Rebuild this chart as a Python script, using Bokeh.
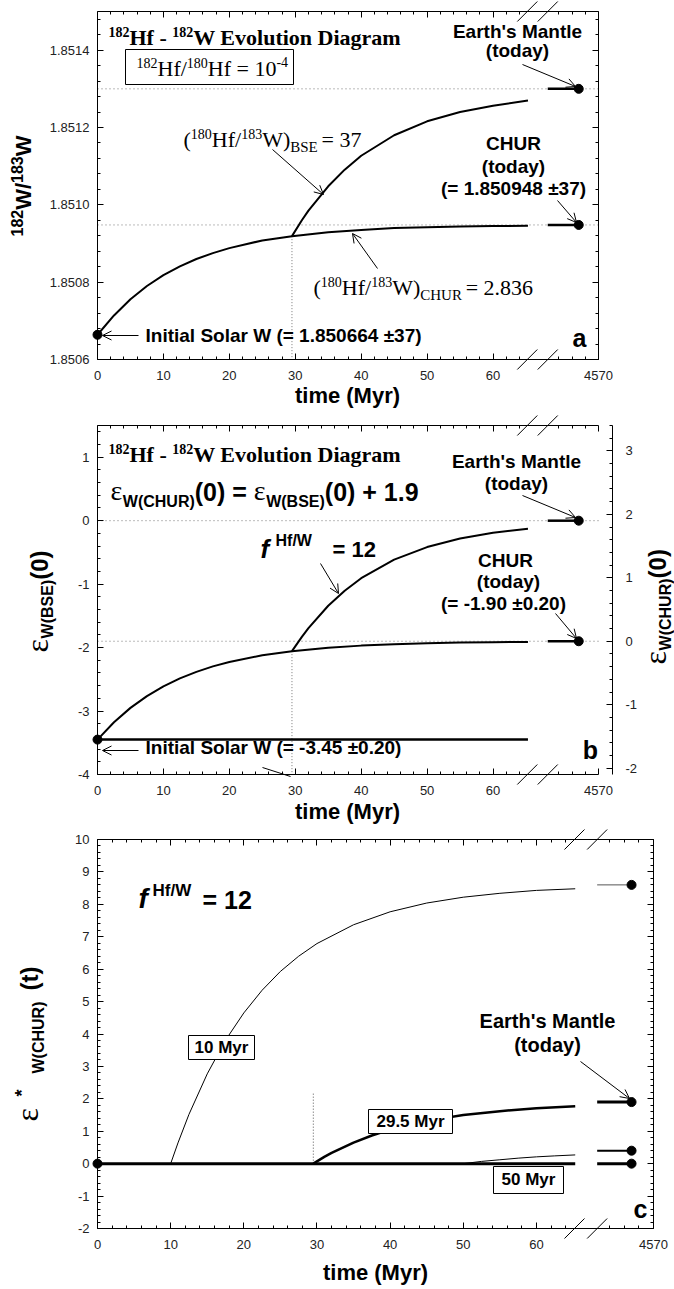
import numpy as np
from bokeh.plotting import figure
from bokeh.models import (Range1d, LinearAxis, FixedTicker, Label, Arrow, OpenHead,
                          BoxAnnotation, NumeralTickFormatter)
from bokeh.layouts import column
from bokeh.embed import file_html
from bokeh.resources import INLINE

# ---------------- data ----------------
X_MAX = 76            # display position of the 4570 Myr tick (broken axis)
T_END = 65.3          # curves stop just before the axis break
T_SEG = 68.3          # "today" segment starts after the break
T_TODAY = 73.0        # display position of the present day (4570 Myr) points
BREAK_CENTERS = [65.2, 68.3]

x_major = [0, 10, 20, 30, 40, 50, 60, 76]
x_labels = {76: "4570"}
x_minor = [2, 4, 6, 8, 12, 14, 16, 18, 22, 24, 26, 28, 32, 34, 36, 38, 42, 44, 46, 48,
           52, 54, 56, 58, 62, 64, 70, 72, 74]

t_sep = 29.5

# panel a : 182W/183W
t_chur = [0, 2.5, 5, 7.5, 10, 12.5, 15, 17.5, 20, 25, 29.5, 35, 40, 45, 50, 55, 60, 65.3]
chur_a = [1.850664, 1.850714, 1.850756, 1.850790, 1.850818, 1.850841, 1.850860, 1.850875,
          1.850888, 1.850908, 1.850919, 1.850929, 1.850935, 1.850940, 1.850942, 1.850944,
          1.850945, 1.850946]
t_bse = [29.5, 31, 32, 35, 37.5, 40, 45, 50, 55, 60, 65.3]
bse_a = [1.850919, 1.850960, 1.850985, 1.851048, 1.851091, 1.851127, 1.851180, 1.851216,
         1.851240, 1.851256, 1.851270]
a_initial = 1.850664
a_mantle = 1.8513
a_chur_today = 1.850948

# panel b : epsilon W (BSE)
chur_b = [-3.45, -3.176, -2.950, -2.764, -2.611, -2.485, -2.382, -2.296, -2.226, -2.121,
          -2.056, -2.002, -1.969, -1.947, -1.931, -1.921, -1.914, -1.910]
bse_b = [-2.056, -1.831, -1.694, -1.341, -1.104, -0.907, -0.614, -0.416, -0.282, -0.190, -0.129]
t_init = [0, 65.3]
init_b = [-3.45, -3.45]
b_initial = -3.45
b_mantle = 0.0
b_chur_today = -1.90
b_offset = 1.9     # eps_CHUR = eps_BSE + 1.9

# panel c : epsilon* W (CHUR)
t10 = [10, 11, 12.5, 15, 17.5, 20, 22.5, 25, 27.5, 30, 35, 40, 45, 50, 55, 60, 65.3]
e10 = [0, 0.64, 1.52, 2.77, 3.81, 4.65, 5.35, 5.93, 6.40, 6.79, 7.37, 7.77, 8.04, 8.22,
       8.34, 8.43, 8.48]
t295 = [29.5, 31, 32, 35, 37.5, 40, 45, 50, 55, 60, 65.3]
e295 = [0, 0.21, 0.33, 0.65, 0.87, 1.05, 1.32, 1.50, 1.62, 1.71, 1.77]
t50 = [50, 52.5, 55, 57.5, 60, 62.5, 65.3]
e50 = [0, 0.07, 0.12, 0.17, 0.21, 0.24, 0.27]
t_zero = [0, 65.3]
e_zero = [0, 0]
c_today = [8.6, 1.9, 0.4, 0.0]
c_today_w = [1, 3, 2, 3]
c_sep_top = 2.2

SANS = "Liberation Sans"
SERIF = "Liberation Serif"

# approximate advance widths (1/1000 em) used to chain rich-text pieces
W_SANS_B = {' ': 278, '(': 333, ')': 333, '.': 278, '=': 584, '+': 584, '-': 333, '/': 278,
            '±': 549, "'": 238, '*': 389, 'A': 722, 'B': 722, 'C': 722, 'D': 722, 'E': 667,
            'H': 722, 'I': 278, 'M': 833, 'R': 722, 'S': 667, 'U': 722, 'W': 944, 'a': 556,
            'd': 611, 'e': 556, 'f': 333, 'h': 611, 'i': 278, 'l': 278, 'm': 889, 'n': 611,
            'o': 611, 'r': 389, 's': 556, 't': 333, 'u': 611, 'y': 556}
W_SERIF = {' ': 250, '(': 333, ')': 333, '.': 250, '=': 564, '/': 278, '-': 333, 'H': 722,
           'W': 944, 'f': 333, 'B': 667, 'S': 556, 'E': 611, 'C': 667, 'U': 722, 'R': 667,
           'ε': 440}
W_SERIF_B = {' ': 250, '-': 333, 'H': 778, 'W': 1000, 'f': 333, 'E': 667, 'v': 500, 'o': 500,
             'l': 278, 'u': 556, 't': 333, 'i': 278, 'n': 556, 'D': 722, 'a': 500, 'g': 500,
             'r': 444, 'm': 833}


def text_width(text, size, font, style):
    if font == SERIF:
        tab, dig = (W_SERIF_B if "bold" in style else W_SERIF), 500
    else:
        tab, dig = W_SANS_B, 556
    return sum(dig if ch.isdigit() else tab.get(ch, 556) for ch in text) * size / 1000.0


class Geo:
    """page-pixel <-> data mapping of one panel"""
    def __init__(s, x0px, x1px, xv0, xv1, y0px, y1px, yv0, yv1):
        s.x0px, s.x1px, s.xv0, s.xv1 = x0px, x1px, xv0, xv1
        s.y0px, s.y1px, s.yv0, s.yv1 = y0px, y1px, yv0, yv1

    def X(s, px):
        return s.xv0 + (px - s.x0px) * (s.xv1 - s.xv0) / (s.x1px - s.x0px)

    def Y(s, py):
        return s.yv0 + (py - s.y0px) * (s.yv1 - s.yv0) / (s.y1px - s.y0px)

    def PX(s, xv):
        return s.x0px + (xv - s.xv0) * (s.x1px - s.x0px) / (s.xv1 - s.xv0)

    def PY(s, yv):
        return s.y0px + (yv - s.yv0) * (s.y1px - s.y0px) / (s.yv1 - s.yv0)


def make_fig(g, fig_top, height):
    # the frame covers the whole figure; axes are placed at fixed data locations
    p = figure(width=674, height=height, x_range=Range1d(g.X(0), g.X(674)),
               y_range=Range1d(g.Y(fig_top + height), g.Y(fig_top)), output_backend="svg",
               toolbar_location=None, title=None, x_axis_location=None, y_axis_location=None,
               min_border=0, min_border_left=0, min_border_right=0,
               min_border_top=0, min_border_bottom=0)
    p.grid.visible = False
    p.outline_line_color = None
    p.background_fill_color = "white"
    p.border_fill_color = "white"
    return p


def hyphen_labels(ticks):
    return {t: str(t) for t in ticks if t < 0}


def mk_axis(ticks, minor, fixed, bounds, labels=True, out=False, overrides=None,
            fmt=None, y_range_name=None, standoff=8):
    a = LinearAxis(ticker=FixedTicker(ticks=ticks, minor_ticks=minor),
                   fixed_location=fixed, bounds=bounds)
    if y_range_name:
        a.y_range_name = y_range_name
    a.axis_line_color = "black"
    a.axis_line_width = 1
    a.major_tick_line_color = "black"
    a.minor_tick_line_color = "black"
    if out:
        a.major_tick_in, a.major_tick_out, a.minor_tick_in, a.minor_tick_out = 0, 6, 0, 3
    else:
        a.major_tick_in, a.major_tick_out, a.minor_tick_in, a.minor_tick_out = 6, 0, 3, 0
    if labels:
        a.major_label_text_font = SANS
        a.major_label_text_font_size = "13px"
        a.major_label_text_color = "#222222"
        a.major_label_standoff = standoff
    else:
        a.major_label_text_color = None
        a.major_label_standoff = 0
    if overrides:
        a.major_label_overrides = overrides
    if fmt is not None:
        a.formatter = fmt
    return a


def lab(p, g, px, py, text, size, font=SANS, style="bold", align="left", angle=0):
    """(px, py) is the text baseline position in page pixels"""
    if angle == 0:
        ax, ay = px, py - 0.36 * size
    else:
        ax, ay = px - 0.36 * size, py
    p.add_layout(Label(x=g.X(ax), y=g.Y(ay), text=text, text_font=font,
                       text_font_size=f"{size}px", text_font_style=style, text_align=align,
                       text_baseline="middle", angle=angle, text_color="black"))


def rich(p, g, px, py, pieces, vertical=False):
    """pieces: (text, size, shift_down_px, font, style); chained left->right
    (or bottom->top when vertical)"""
    adv = 0.0
    for text, size, dy, font, style in pieces:
        if vertical:
            lab(p, g, px + dy, py - adv, text, size, font, style, angle=np.pi / 2)
        else:
            lab(p, g, px + adv, py + dy, text, size, font, style)
        adv += text_width(text, size, font, style)


def arr(p, g, x0, y0, x1, y1, head=True):
    p.add_layout(Arrow(end=OpenHead(size=9, line_width=1, line_color="black") if head else None,
                       x_start=g.X(x0), y_start=g.Y(y0), x_end=g.X(x1), y_end=g.Y(y1),
                       line_width=1, line_color="black"))


def box(p, g, l, r, t, b):
    p.add_layout(BoxAnnotation(left=g.X(l), right=g.X(r), top=g.Y(t), bottom=g.Y(b),
                               fill_color="white", fill_alpha=1.0, line_color="black",
                               line_width=1, line_alpha=1.0))


def breaks(p, g, yvals):
    x0, y0, x1, y1 = [], [], [], []
    for yv in yvals:
        py = g.PY(yv)
        for c in BREAK_CENTERS:
            px = g.PX(c)
            x0.append(g.X(px - 10)); y0.append(g.Y(py + 10))
            x1.append(g.X(px + 10)); y1.append(g.Y(py - 10))
    p.segment(x0, y0, x1, y1, line_color="black", line_width=1)


def frame_axes(p, ymin, ymax, ymaj, ymin_ticks, yfmt=None, right_axis=True):
    p.add_layout(mk_axis(x_major, x_minor, ymin, (0, X_MAX), overrides=x_labels,
                         standoff=11), "below")
    p.add_layout(mk_axis(x_major, x_minor, ymax, (0, X_MAX), labels=False, out=True), "below")
    p.add_layout(mk_axis(ymaj, ymin_ticks, 0, (ymin, ymax), fmt=yfmt,
                         overrides=hyphen_labels(ymaj)), "left")
    if right_axis:
        p.add_layout(mk_axis(ymaj, ymin_ticks, X_MAX, (ymin, ymax), labels=False, out=True), "left")


def title_hfw(p, g, x, y):
    rich(p, g, x, y, [("182", 14, -8, SERIF, "bold"), ("Hf - ", 22, 0, SERIF, "bold"),
                      ("182", 14, -8, SERIF, "bold"), ("W Evolution Diagram", 22, 0, SERIF, "bold")])


def ratio_label(p, g, x, y, sub, tail):
    rich(p, g, x, y, [("(", 22, 0, SERIF, "normal"), ("180", 14, -8, SERIF, "normal"),
                      ("Hf/", 22, 0, SERIF, "normal"), ("183", 14, -8, SERIF, "normal"),
                      ("W)", 22, 0, SERIF, "normal"), (sub + " ", 15, 5, SERIF, "normal"),
                      (tail, 22, 0, SERIF, "normal")])


# ======================= panel a =======================
ga = Geo(97, 598, 0, X_MAX, 359, 11, 1.8506, 1.8515)
pa = make_fig(ga, 0, 412)
a_major = [1.8506, 1.8508, 1.8510, 1.8512, 1.8514]
a_minor = [round(1.8506 + 0.00004 * i, 5) for i in range(0, 23)]
frame_axes(pa, 1.8506, 1.8515, a_major, a_minor, yfmt=NumeralTickFormatter(format="0.0000"))
breaks(pa, ga, [1.8506, 1.8515])

pa.line([0, X_MAX], [a_mantle, a_mantle], line_dash="1 3", line_color="#777777", line_width=1)
pa.line([0, X_MAX], [a_chur_today, a_chur_today], line_dash="1 3", line_color="#777777", line_width=1)
pa.line([t_sep, t_sep], [chur_a[t_chur.index(t_sep)], 1.8506], line_dash="1 2",
        line_color="#777777", line_width=1)
pa.line(t_chur, chur_a, line_color="black", line_width=2)
pa.line(t_bse, bse_a, line_color="black", line_width=2)
pa.line([T_SEG, T_TODAY], [a_mantle, a_mantle], line_color="black", line_width=2.5)
pa.line([T_SEG, T_TODAY], [a_chur_today, a_chur_today], line_color="black", line_width=2.5)
pa.scatter([0, T_TODAY, T_TODAY], [a_initial, a_mantle, a_chur_today], size=9, color="black")

title_hfw(pa, ga, 108, 45)
box(pa, ga, 125, 293, 49, 84)
rich(pa, ga, 136, 76, [("182", 14, -8, SERIF, "normal"), ("Hf/", 22, 0, SERIF, "normal"),
                       ("180", 14, -8, SERIF, "normal"), ("Hf = 10", 22, 0, SERIF, "normal"),
                       ("-4", 14, -9, SERIF, "normal")])
lab(pa, ga, 517, 38, "Earth's Mantle", 19, align="center")
lab(pa, ga, 517, 57, "(today)", 19, align="center")
arr(pa, ga, 522, 64, 575, 86)
ratio_label(pa, ga, 183, 147, "BSE", "= 37")
arr(pa, ga, 272, 149, 323, 194)
lab(pa, ga, 513, 150, "CHUR", 19, align="center")
lab(pa, ga, 513, 173, "(today)", 19, align="center")
lab(pa, ga, 513, 195, "(= 1.850948 ±37)", 19, align="center")
arr(pa, ga, 557, 200, 576, 222)
ratio_label(pa, ga, 313, 295, "CHUR", "= 2.836")
arr(pa, ga, 377, 268, 352, 233)
arr(pa, ga, 138, 335, 102, 335)
lab(pa, ga, 145, 342, "Initial Solar W (= 1.850664 ±37)", 19)
lab(pa, ga, 579, 346, "a", 25, align="center")
lab(pa, ga, 347, 403, "time (Myr)", 22, align="center")
rich(pa, ga, 31, 236, [("182", 16, -9, SANS, "bold"), ("W/", 22, 0, SANS, "bold"),
                       ("183", 16, -9, SANS, "bold"), ("W", 22, 0, SANS, "bold")], vertical=True)

# ======================= panel b =======================
gb = Geo(97, 598, 0, X_MAX, 774, 425, -4.0, 1.5)
pb = make_fig(gb, 412, 414)
b_major = [-4, -3, -2, -1, 0, 1]
b_minor = [round(-4 + 0.2 * i, 1) for i in range(0, 28)]
frame_axes(pb, -4.0, 1.5, b_major, b_minor, right_axis=False)
pb.extra_y_ranges = {"chur": Range1d(pb.y_range.start + b_offset, pb.y_range.end + b_offset)}
r_major = [-2, -1, 0, 1, 2, 3]
r_minor = [round(-2 + 0.2 * i, 1) for i in range(0, 28)]
pb.add_layout(mk_axis(r_major, r_minor, gb.X(612), (-4.0 + b_offset, 1.5 + b_offset),
                      y_range_name="chur", standoff=13, overrides=hyphen_labels(r_major)),
              "right")
breaks(pb, gb, [-4.0, 1.5])

pb.line([0, X_MAX], [b_mantle, b_mantle], line_dash="1 3", line_color="#777777", line_width=1)
pb.line([0, X_MAX], [b_chur_today, b_chur_today], line_dash="1 3", line_color="#777777", line_width=1)
pb.line([t_sep, t_sep], [chur_b[t_chur.index(t_sep)], -4.0], line_dash="1 2",
        line_color="#777777", line_width=1)
pb.line(t_chur, chur_b, line_color="black", line_width=2)
pb.line(t_bse, bse_b, line_color="black", line_width=2)
pb.line(t_init, init_b, line_color="black", line_width=2.5)
pb.line([T_SEG, T_TODAY], [b_mantle, b_mantle], line_color="black", line_width=2.5)
pb.line([T_SEG, T_TODAY], [b_chur_today, b_chur_today], line_color="black", line_width=2.5)
pb.scatter([0, T_TODAY, T_TODAY], [b_initial, b_mantle, b_chur_today], size=9, color="black")

title_hfw(pb, gb, 108, 462)
rich(pb, gb, 110, 500, [("ε", 28, 0, SERIF, "normal"), ("W(CHUR)", 16, 7, SANS, "bold"),
                        ("(0) = ", 25, 0, SANS, "bold"), ("ε", 28, 0, SERIF, "normal"),
                        ("W(BSE)", 16, 7, SANS, "bold"), ("(0) + 1.9", 25, 0, SANS, "bold")])
lab(pb, gb, 516, 468, "Earth's Mantle", 19, align="center")
lab(pb, gb, 516, 490, "(today)", 19, align="center")
arr(pb, gb, 522, 495, 575, 517)
lab(pb, gb, 260, 558, "f", 26, style="bold italic")
lab(pb, gb, 275, 546, "Hf/W", 16)
lab(pb, gb, 332, 557, "= 12", 22)
arr(pb, gb, 320, 563, 338, 593)
lab(pb, gb, 505, 567, "CHUR", 19, align="center")
lab(pb, gb, 508, 588, "(today)", 19, align="center")
lab(pb, gb, 503, 610, "(= -1.90 ±0.20)", 19, align="center")
arr(pb, gb, 555, 613, 576, 638)
arr(pb, gb, 138, 750, 102, 750)
arr(pb, gb, 262, 767, 290, 776, head=False)
lab(pb, gb, 145, 754, "Initial Solar W (= -3.45 ±0.20)", 19)
lab(pb, gb, 590, 758, "b", 25, align="center")
lab(pb, gb, 347, 819, "time (Myr)", 22, align="center")
rich(pb, gb, 48, 652, [("ε", 32, 0, SERIF, "normal"), ("W(BSE)", 16, 5, SANS, "bold"),
                       ("(0)", 24, 0, SANS, "bold")], vertical=True)
rich(pb, gb, 666, 664, [("ε", 32, 0, SERIF, "normal"), ("W(CHUR)", 16, 5, SANS, "bold"),
                        ("(0)", 24, 0, SANS, "bold")], vertical=True)

# ======================= panel c =======================
gc = Geo(97, 653, 0, X_MAX, 1228, 839, -2.0, 10.0)
pc = make_fig(gc, 826, 463)
c_major = list(range(-2, 11))
c_minor = [round(-2 + 0.2 * i, 1) for i in range(0, 61)]
frame_axes(pc, -2.0, 10.0, c_major, c_minor)
breaks(pc, gc, [-2.0, 10.0])

pc.line([t_sep, t_sep], [0, c_sep_top], line_dash="1 2", line_color="#555555", line_width=1)
pc.line(t10, e10, line_color="black", line_width=1)
pc.line(t50, e50, line_color="black", line_width=1)
pc.line(t295, e295, line_color="black", line_width=2.5)
pc.line(t_zero, e_zero, line_color="black", line_width=3)
for v, w in zip(c_today, c_today_w):
    pc.line([T_SEG, T_TODAY], [v, v], line_color="black" if w > 1 else "#555555", line_width=w)
pc.scatter([0] + [T_TODAY] * len(c_today), [0] + c_today, size=9, color="black")

lab(pc, gc, 138, 908, "f", 28, style="bold italic")
lab(pc, gc, 152, 896, "Hf/W", 17)
lab(pc, gc, 202, 908, "= 12", 25)
box(pc, gc, 188, 254, 1035, 1059)
lab(pc, gc, 221, 1053, "10 Myr", 17, align="center")
box(pc, gc, 368, 452, 1109, 1133)
lab(pc, gc, 410, 1127, "29.5 Myr", 17, align="center")
box(pc, gc, 493, 563, 1166, 1193)
lab(pc, gc, 528, 1185, "50 Myr", 17, align="center")
lab(pc, gc, 547, 1028, "Earth's Mantle", 20, align="center")
lab(pc, gc, 547, 1052, "(today)", 20, align="center")
arr(pc, gc, 580, 1061, 629, 1098)
lab(pc, gc, 640, 1217, "c", 25, align="center")
lab(pc, gc, 375, 1280, "time (Myr)", 22, align="center")
lab(pc, gc, 38, 1121, "ε", 32, font=SERIF, style="normal", angle=np.pi / 2)
lab(pc, gc, 28, 1096, "*", 18, angle=np.pi / 2)
lab(pc, gc, 44, 1073, "W(CHUR)", 16, angle=np.pi / 2)
lab(pc, gc, 38, 990, "(t)", 24, angle=np.pi / 2)

layout = column(pa, pb, pc)
open("out.html", "w").write(file_html(layout, INLINE))
